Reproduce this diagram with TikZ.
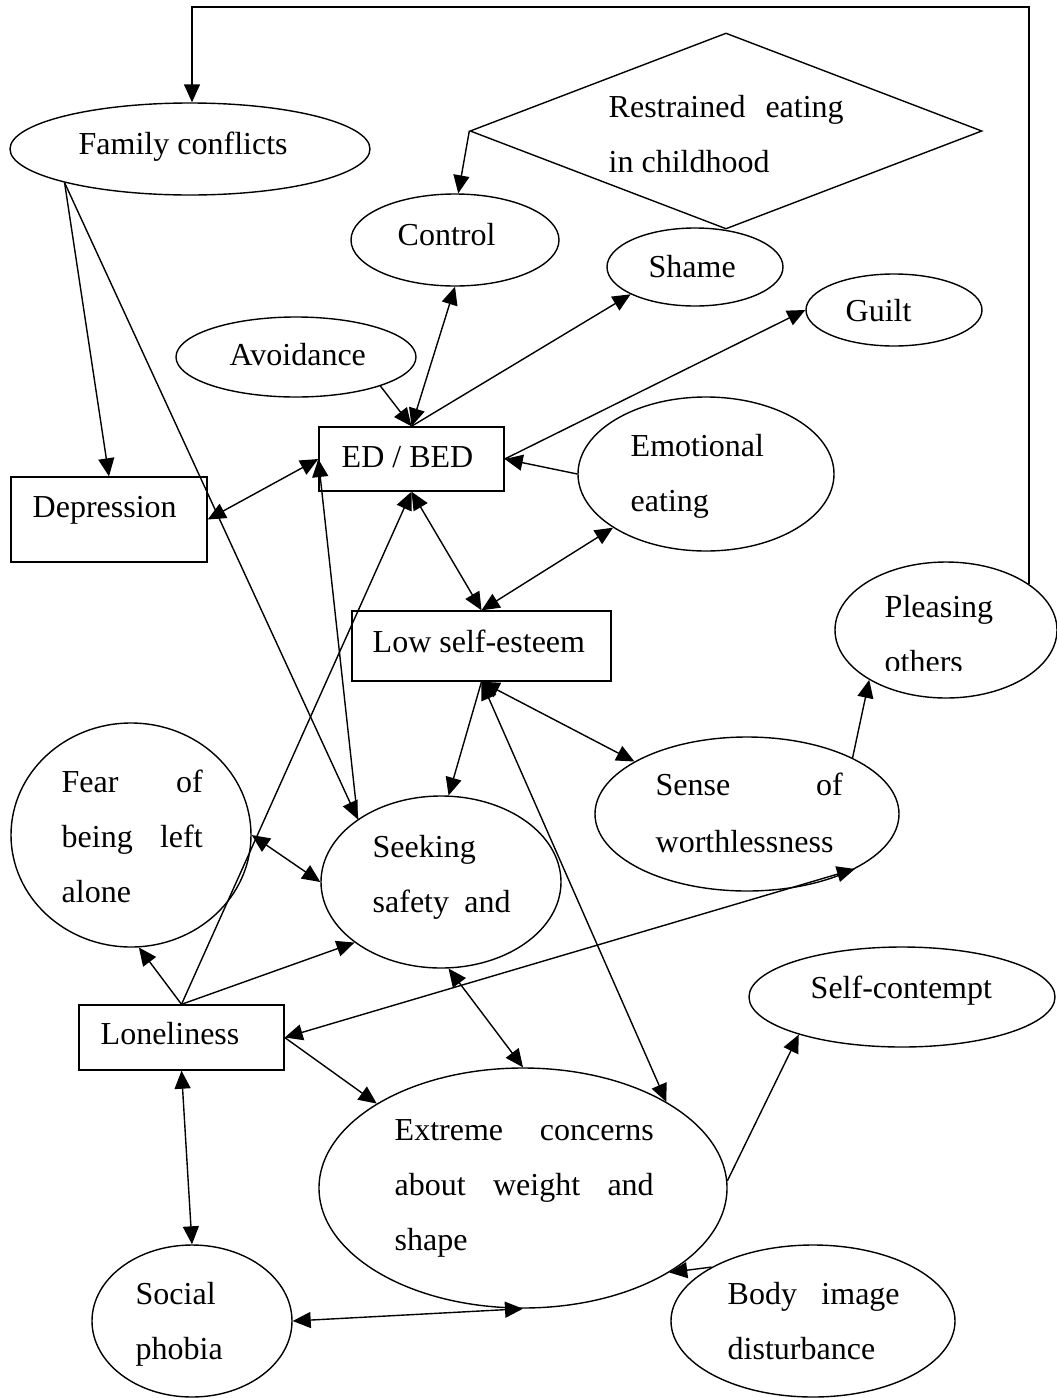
\documentclass[tikz,border=0pt]{standalone}
\usepackage{fontspec}
\setmainfont{Liberation Serif}
\usetikzlibrary{shapes.geometric,arrows.meta}

% a line stretched to a given width, and a stack of lines
\newcommand{\jline}[2]{\makebox[#1][s]{#2}}
\newcommand{\stack}[1]{\begin{tabular}[t]{@{}l@{}}#1\end{tabular}}

\begin{document}
\begin{tikzpicture}[x=0.5pt,y=-0.5pt,line width=0.7pt,
  ell/.style 2 args={ellipse, draw, inner sep=0pt, line width=0.7pt,
                     minimum width=#1pt, minimum height=#2pt},
  boxnode/.style 2 args={rectangle, draw, inner sep=0pt, line width=0.7pt,
                     minimum width=#1pt, minimum height=#2pt},
  txt/.style={inner sep=0pt, anchor=base west,
              font=\fontsize{16pt}{27.5pt}\selectfont},
  arr/.style={-{Triangle[length=9pt,width=8pt]}},
  darr/.style={{Triangle[length=9pt,width=8pt]}-{Triangle[length=9pt,width=8pt]}}]

\useasboundingbox (0,0) rectangle (1056,1398);

% shapes
\node[ell={180}{46}]  (fam)   at (190,149)  {};
\node[diamond, draw, inner sep=0pt, line width=0.7pt,
      minimum width=256pt, minimum height=98pt] (restr) at (726,131) {};
\node[ell={104}{46}]  (ctrl)  at (455,240)  {};
\node[ell={88}{39}]   (shame) at (695,267)  {};
\node[ell={88}{36}]   (guilt) at (894,310)  {};
\node[ell={120}{40}]  (avoid) at (296,357)  {};
\node[boxnode={92.5}{32}]   (ed)  at (411.5,459)  {};
\node[boxnode={98}{42.5}]   (dep) at (109,519.5)  {};
\node[ell={128}{77}]  (emo)   at (706,474)  {};
\node[boxnode={129.5}{35}]  (lse) at (481.5,646)  {};
\node[ell={111}{68}]  (plea)  at (946,630)  {};
\node[ell={120}{112}] (fear)  at (131,835)  {};
\node[ell={120}{86}]  (seek)  at (441,882)  {};
\node[ell={152}{77}]  (sense) at (747,814)  {};
\node[ell={153}{50}]  (selfc) at (902,997)  {};
\node[boxnode={102.5}{32.5}] (lone) at (181.5,1037.5) {};
\node[ell={204}{120}] (ext)   at (523,1188) {};
\node[ell={100}{76}]  (soc)   at (192,1321) {};
\node[ell={142}{76}]  (body)  at (813,1321) {};

% labels
\node[txt] (famT)   at (78,154)  {Family conflicts};
\node[txt] (restrT) at (608,117) {\stack{\jline{117.5pt}{Restrained eating}\\in childhood}};
\node[txt] (ctrlT)  at (397,245) {Control};
\node[txt] (shameT) at (648,277) {Shame};
\node[txt] (guiltT) at (845,321) {Guilt};
\node[txt] (avoidT) at (229,365) {Avoidance};
\node[txt] (edT)    at (341,467) {ED / BED};
\node[txt] (depT)   at (32,517)  {Depression};
\node[txt] (emoT)   at (630,456) {\stack{Emotional\\eating}};
\node[txt] (lseT)   at (372,652) {Low self-esteem};
\begin{scope}
  \clip (835,560) rectangle (1056,670);
  \node[txt] (pleaT) at (884,617) {\stack{Pleasing\\others}};
\end{scope}
\node[txt] (fearT)  at (61,792)  {\stack{\jline{70.5pt}{Fear of}\\\jline{70.5pt}{being left}\\alone}};
\node[txt] (seekT)  at (372,857) {\stack{Seeking\\\jline{69pt}{safety and}}};
\node[txt] (senseT) at (655,795) {\stack{\jline{93.5pt}{Sense of}\\[1pt]worthlessness}};
\node[txt] (selfcT) at (810,998) {Self-contempt};
\node[txt] (loneT)  at (100,1044) {Loneliness};
\node[txt] (extT)   at (394,1140) {\stack{\jline{129.5pt}{Extreme concerns}\\\jline{129.5pt}{about weight and}\\shape}};
\node[txt] (socT)   at (135,1304) {\stack{Social\\phobia}};
\node[txt] (bodyT)  at (727,1304) {\stack{\jline{86pt}{Body image}\\disturbance}};

% connectors
\coordinate (loop) at (192,7);
\draw[arr]  (plea.29) |- (loop) -- (loop |- fam.north);
\draw[arr]  (restr.west) -- (ctrl.86);
\draw[arr]  (fam.195) -- (dep.north);
\draw[arr]  (fam.195) -- (seek.143);
\draw[arr]  (avoid.-19) -- (ed.north);
\draw[darr] (ed.north) -- (ctrl.south);
\draw[arr]  (ed.north) -- (shame.203);
\draw[arr]  (ed.east) -- (guilt.west);
\draw[arr]  (emo.west) -- (ed.east);
\draw[darr] (dep.east) -- (ed.west);
\draw[arr]  (seek.143) -- (ed.west);
\draw[darr] (ed.south) -- (lse.north);
\draw[darr] (emo.210) -- (lse.north);
\draw[arr]  (lone.north) -- (ed.south);
\draw[arr]  (lse.south) -- (seek.85);
\draw[darr] (lse.south) -- (ext.31);
\draw[darr] (lse.south) -- (sense.155);
\draw[arr]  (sense.28) -- (plea.-147);
\draw[darr] (fear.east) -- (seek.west);
\draw[arr]  (lone.north) -- (fear.-86);
\draw[arr]  (lone.north) -- (seek.215);
\draw[darr] (lone.east) -- (sense.-27);
\draw[arr]  (lone.east) -- (ext.150);
\draw[darr] (seek.-85) -- (ext.north);
\draw[arr]  (ext.2) -- (selfc.200);
\draw[arr]  (body.152) -- (ext.-30);
\draw[darr] (soc.east) -- (ext.south);
\draw[darr] (lone.south) -- (soc.north);
\end{tikzpicture}
\end{document}
